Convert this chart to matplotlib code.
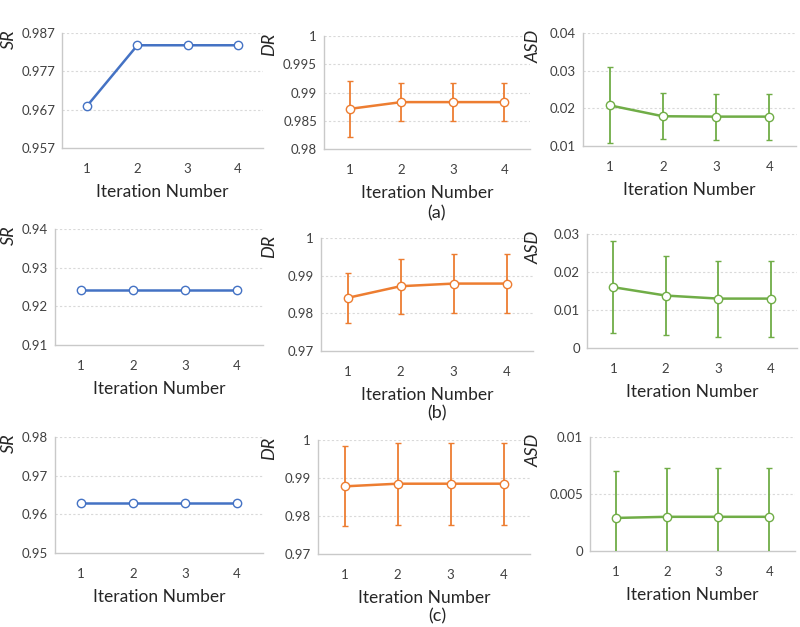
import numpy as np
import matplotlib
matplotlib.use("Agg")
import matplotlib.pyplot as plt
from matplotlib.ticker import FormatStrFormatter

plt.rcParams['font.family'] = ['Lato', 'DejaVu Sans']

iters = [1, 2, 3, 4]

# (a)
sr_a = [0.968, 0.9838, 0.9838, 0.9838]
dr_a = [0.9871, 0.9883, 0.9883, 0.9883]
dr_a_err = [0.0049, 0.0033, 0.0033, 0.0033]
asd_a = [0.0208, 0.0179, 0.0178, 0.0178]
asd_a_err = [0.0101, 0.0061, 0.0061, 0.0061]

# (b)
sr_b = [0.9241, 0.9241, 0.9241, 0.9241]
dr_b = [0.9841, 0.9872, 0.9879, 0.9879]
dr_b_err = [0.0067, 0.0073, 0.0079, 0.0079]
asd_b = [0.0160, 0.0138, 0.0130, 0.0130]
asd_b_err = [0.0121, 0.0103, 0.0100, 0.0100]

# (c)
sr_c = [0.963, 0.963, 0.963, 0.963]
dr_c = [0.9878, 0.9885, 0.9885, 0.9885]
dr_c_err = [0.0105, 0.0108, 0.0108, 0.0108]
asd_c = [0.0029, 0.0030, 0.0030, 0.0030]
asd_c_err = [0.0041, 0.0043, 0.0043, 0.0043]

# y tick values per panel
sr_ticks = [[0.957, 0.967, 0.977, 0.987], [0.91, 0.92, 0.93, 0.94], [0.95, 0.96, 0.97, 0.98]]
dr_ticks = [[0.98, 0.985, 0.99, 0.995, 1.0], [0.97, 0.98, 0.99, 1.0], [0.97, 0.98, 0.99, 1.0]]
asd_ticks = [[0.01, 0.02, 0.03, 0.04], [0, 0.01, 0.02, 0.03], [0, 0.005, 0.01]]

captions = ['(a)', '(b)', '(c)']

BLUE = '#4472C4'
ORANGE = '#ED7D31'
GREEN = '#70AD47'

W, H = 800, 627
fig = plt.figure(figsize=(W / 100, H / 100), dpi=100)

# axes boxes in pixels: left, top, right, bottom
boxes = [
    [(62, 33, 263, 148), (324, 36, 530, 149), (583, 33, 796, 146)],
    [(55, 229, 263, 345), (321, 238, 533, 351), (587, 234, 797, 348)],
    [(55, 437, 263, 553), (318, 440, 530, 554), (590, 437, 795, 551)],
]


def make_ax(box):
    l, t, r, b = box
    return fig.add_axes([l / W, 1 - b / H, (r - l) / W, (b - t) / H])


def style(ax, ticks, name, lab_dx):
    ax.set_xlim(0.5, 4.5)
    ax.set_ylim(ticks[0], ticks[-1])
    ax.set_yticks(ticks)
    ax.yaxis.set_major_formatter(FormatStrFormatter('%g'))
    ax.set_xticks(iters)
    ax.tick_params(length=0, labelsize=9.5, colors='#404040')
    ax.tick_params(axis='x', pad=11)
    ax.tick_params(axis='y', pad=5)
    for s in ['top', 'right']:
        ax.spines[s].set_visible(False)
    for s in ['left', 'bottom']:
        ax.spines[s].set_color('#c9c9c9')
        ax.spines[s].set_linewidth(1.0)
    for y in ticks[1:]:
        ax.axhline(y, color='#d9d9d9', lw=0.8, ls=(0, (2, 2)), zorder=0)
    ax.set_xlabel('Iteration Number', fontsize=12.5, color='#262626', labelpad=6)
    ax.set_ylabel(name, loc='top', style='italic', fontsize=13, color='#262626')
    w = ax.get_position().width * W
    ax.yaxis.set_label_coords(-lab_dx / w, 1.03)


def draw(ax, vals, err, color):
    ax.errorbar(iters, vals, yerr=err, color=color, lw=1.8, elinewidth=1.3,
                capsize=2, capthick=1.3, marker='o', markersize=6,
                markerfacecolor='white', markeredgecolor=color,
                markeredgewidth=1.0, clip_on=True, zorder=3)


rows = [
    (sr_a, dr_a, dr_a_err, asd_a, asd_a_err),
    (sr_b, dr_b, dr_b_err, asd_b, asd_b_err),
    (sr_c, dr_c, dr_c_err, asd_c, asd_c_err),
]

for i, (sr, dr, dr_err, asd, asd_err) in enumerate(rows):
    ax1 = make_ax(boxes[i][0])
    draw(ax1, sr, None, BLUE)
    style(ax1, sr_ticks[i], 'SR', boxes[i][0][0] - 17)

    ax2 = make_ax(boxes[i][1])
    draw(ax2, dr, dr_err, ORANGE)
    style(ax2, dr_ticks[i], 'DR', boxes[i][1][0] - 277)

    ax3 = make_ax(boxes[i][2])
    draw(ax3, asd, asd_err, GREEN)
    style(ax3, asd_ticks[i], 'ASD', boxes[i][2][0] - 542)

cap_y = [213, 413, 616]
for i, c in enumerate(captions):
    fig.text(437 / W, 1 - cap_y[i] / H, c, ha='center', va='center',
             fontsize=13, color='#262626')

fig.savefig('out.png', dpi=100)
